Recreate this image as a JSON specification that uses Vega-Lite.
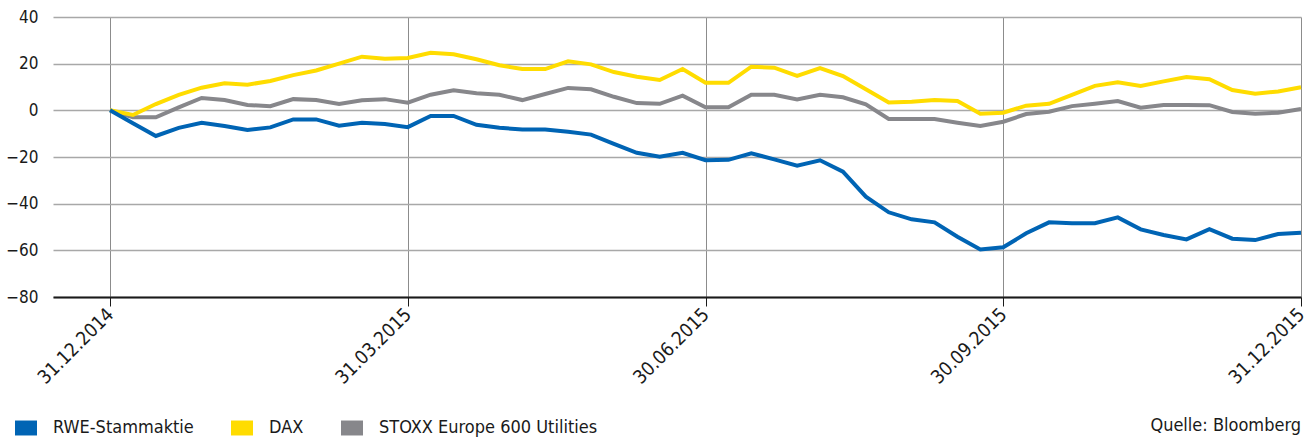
{
  "$schema": "https://vega.github.io/schema/vega-lite/v6.json",
  "width": 1248,
  "height": 280,
  "autosize": {"type": "none"},
  "padding": {"left": 53, "top": 17, "right": 13, "bottom": 144},
  "config": {
    "font": "DejaVu Sans Condensed, DejaVu Sans, sans-serif",
    "view": {"stroke": null},
    "axis": {"labelColor": "#1a1a1a", "labelFontSize": 17}
  },
  "title": {
    "text": "Quelle: Bloomberg",
    "orient": "bottom",
    "anchor": "end",
    "frame": "group",
    "fontSize": 18,
    "fontWeight": "normal",
    "color": "#1a1a1a",
    "offset": -20
  },
  "data": {
    "values": [
      {"woche": 0, "RWE-Stammaktie": 0, "DAX": 0, "STOXX Europe 600 Utilities": 0},
      {"woche": 1, "RWE-Stammaktie": -5.5, "DAX": -2, "STOXX Europe 600 Utilities": -3},
      {"woche": 2, "RWE-Stammaktie": -11, "DAX": 2.7, "STOXX Europe 600 Utilities": -3},
      {"woche": 3, "RWE-Stammaktie": -7.5, "DAX": 6.6, "STOXX Europe 600 Utilities": 1.3},
      {"woche": 4, "RWE-Stammaktie": -5.3, "DAX": 9.7, "STOXX Europe 600 Utilities": 5.3},
      {"woche": 5, "RWE-Stammaktie": -6.7, "DAX": 11.6, "STOXX Europe 600 Utilities": 4.4},
      {"woche": 6, "RWE-Stammaktie": -8.4, "DAX": 11, "STOXX Europe 600 Utilities": 2.3},
      {"woche": 7, "RWE-Stammaktie": -7.3, "DAX": 12.6, "STOXX Europe 600 Utilities": 1.8},
      {"woche": 8, "RWE-Stammaktie": -3.9, "DAX": 15.1, "STOXX Europe 600 Utilities": 4.8},
      {"woche": 9, "RWE-Stammaktie": -3.9, "DAX": 17.1, "STOXX Europe 600 Utilities": 4.4},
      {"woche": 10, "RWE-Stammaktie": -6.6, "DAX": 20, "STOXX Europe 600 Utilities": 2.7},
      {"woche": 11, "RWE-Stammaktie": -5.3, "DAX": 23, "STOXX Europe 600 Utilities": 4.3},
      {"woche": 12, "RWE-Stammaktie": -5.9, "DAX": 22.1, "STOXX Europe 600 Utilities": 4.8},
      {"woche": 13, "RWE-Stammaktie": -7.2, "DAX": 22.4, "STOXX Europe 600 Utilities": 3.3},
      {"woche": 14, "RWE-Stammaktie": -2.4, "DAX": 24.7, "STOXX Europe 600 Utilities": 6.7},
      {"woche": 15, "RWE-Stammaktie": -2.4, "DAX": 24, "STOXX Europe 600 Utilities": 8.6},
      {"woche": 16, "RWE-Stammaktie": -6.2, "DAX": 21.9, "STOXX Europe 600 Utilities": 7.3},
      {"woche": 17, "RWE-Stammaktie": -7.5, "DAX": 19.3, "STOXX Europe 600 Utilities": 6.7},
      {"woche": 18, "RWE-Stammaktie": -8.2, "DAX": 17.7, "STOXX Europe 600 Utilities": 4.4},
      {"woche": 19, "RWE-Stammaktie": -8.2, "DAX": 17.7, "STOXX Europe 600 Utilities": 7},
      {"woche": 20, "RWE-Stammaktie": -9.2, "DAX": 21, "STOXX Europe 600 Utilities": 9.6},
      {"woche": 21, "RWE-Stammaktie": -10.4, "DAX": 19.7, "STOXX Europe 600 Utilities": 9},
      {"woche": 22, "RWE-Stammaktie": -14.4, "DAX": 16.4, "STOXX Europe 600 Utilities": 5.8},
      {"woche": 23, "RWE-Stammaktie": -18.2, "DAX": 14.4, "STOXX Europe 600 Utilities": 3.1},
      {"woche": 24, "RWE-Stammaktie": -19.9, "DAX": 13, "STOXX Europe 600 Utilities": 2.8},
      {"woche": 25, "RWE-Stammaktie": -18.2, "DAX": 17.7, "STOXX Europe 600 Utilities": 6.3},
      {"woche": 26, "RWE-Stammaktie": -21.4, "DAX": 11.8, "STOXX Europe 600 Utilities": 1.3},
      {"woche": 27, "RWE-Stammaktie": -21.2, "DAX": 11.8, "STOXX Europe 600 Utilities": 1.3},
      {"woche": 28, "RWE-Stammaktie": -18.4, "DAX": 18.7, "STOXX Europe 600 Utilities": 6.7},
      {"woche": 29, "RWE-Stammaktie": -21, "DAX": 18.3, "STOXX Europe 600 Utilities": 6.7},
      {"woche": 30, "RWE-Stammaktie": -23.7, "DAX": 14.8, "STOXX Europe 600 Utilities": 4.7},
      {"woche": 31, "RWE-Stammaktie": -21.4, "DAX": 18.1, "STOXX Europe 600 Utilities": 6.7},
      {"woche": 32, "RWE-Stammaktie": -26.3, "DAX": 14.7, "STOXX Europe 600 Utilities": 5.6},
      {"woche": 33, "RWE-Stammaktie": -37, "DAX": 9, "STOXX Europe 600 Utilities": 2.6},
      {"woche": 34, "RWE-Stammaktie": -43.7, "DAX": 3.4, "STOXX Europe 600 Utilities": -3.7},
      {"woche": 35, "RWE-Stammaktie": -46.7, "DAX": 3.7, "STOXX Europe 600 Utilities": -3.7},
      {"woche": 36, "RWE-Stammaktie": -48, "DAX": 4.4, "STOXX Europe 600 Utilities": -3.7},
      {"woche": 37, "RWE-Stammaktie": -54.2, "DAX": 4, "STOXX Europe 600 Utilities": -5.3},
      {"woche": 38, "RWE-Stammaktie": -59.6, "DAX": -1.5, "STOXX Europe 600 Utilities": -6.7},
      {"woche": 39, "RWE-Stammaktie": -58.7, "DAX": -1, "STOXX Europe 600 Utilities": -4.9},
      {"woche": 40, "RWE-Stammaktie": -52.7, "DAX": 2, "STOXX Europe 600 Utilities": -1.6},
      {"woche": 41, "RWE-Stammaktie": -48, "DAX": 2.8, "STOXX Europe 600 Utilities": -0.6},
      {"woche": 42, "RWE-Stammaktie": -48.4, "DAX": 6.6, "STOXX Europe 600 Utilities": 1.8},
      {"woche": 43, "RWE-Stammaktie": -48.4, "DAX": 10.5, "STOXX Europe 600 Utilities": 2.8},
      {"woche": 44, "RWE-Stammaktie": -45.9, "DAX": 12, "STOXX Europe 600 Utilities": 4},
      {"woche": 45, "RWE-Stammaktie": -51, "DAX": 10.4, "STOXX Europe 600 Utilities": 1.1},
      {"woche": 46, "RWE-Stammaktie": -53.4, "DAX": 12.4, "STOXX Europe 600 Utilities": 2.3},
      {"woche": 47, "RWE-Stammaktie": -55.3, "DAX": 14.3, "STOXX Europe 600 Utilities": 2.3},
      {"woche": 48, "RWE-Stammaktie": -50.9, "DAX": 13.3, "STOXX Europe 600 Utilities": 2.2},
      {"woche": 49, "RWE-Stammaktie": -55, "DAX": 8.7, "STOXX Europe 600 Utilities": -0.7},
      {"woche": 50, "RWE-Stammaktie": -55.6, "DAX": 7.1, "STOXX Europe 600 Utilities": -1.5},
      {"woche": 51, "RWE-Stammaktie": -53, "DAX": 8.1, "STOXX Europe 600 Utilities": -1},
      {"woche": 52, "RWE-Stammaktie": -52.5, "DAX": 9.9, "STOXX Europe 600 Utilities": 0.6}
    ]
  },
  "transform": [
    {"fold": ["STOXX Europe 600 Utilities", "DAX", "RWE-Stammaktie"], "as": ["serie", "wert"]}
  ],
  "mark": {"type": "line", "strokeWidth": 4, "strokeJoin": "miter"},
  "encoding": {
    "x": {
      "field": "woche",
      "type": "quantitative",
      "scale": {"domain": [-2.49, 52], "nice": false, "zero": false},
      "axis": {
        "title": null,
        "values": [0, 13, 26, 39, 52],
        "labelExpr": "datum.value == 0 ? '31.12.2014' : datum.value == 13 ? '31.03.2015' : datum.value == 26 ? '30.06.2015' : datum.value == 39 ? '30.09.2015' : '31.12.2015'",
        "labelAngle": -45,
        "labelAlign": "right",
        "labelBaseline": "middle",
        "labelFontSize": 19,
        "labelPadding": 5,
        "grid": true,
        "gridColor": "#8c8c8c",
        "gridWidth": 1,
        "domainColor": "#1a1a1a",
        "domainWidth": 2,
        "tickColor": "#1a1a1a",
        "tickSize": 9,
        "tickWidth": 1
      }
    },
    "y": {
      "field": "wert",
      "type": "quantitative",
      "scale": {"domain": [-80, 40], "nice": false},
      "axis": {
        "title": null,
        "values": [-80, -60, -40, -20, 0, 20, 40],
        "domain": false,
        "ticks": false,
        "labelPadding": 15,
        "labelFontSize": 17,
        "gridColor": "#a8a8a8",
        "gridWidth": 1.3
      }
    },
    "color": {
      "field": "serie",
      "type": "nominal",
      "scale": {
        "domain": ["RWE-Stammaktie", "DAX", "STOXX Europe 600 Utilities"],
        "range": ["#0064b4", "#ffdc00", "#87878b"]
      },
      "legend": {
        "title": null,
        "orient": "none",
        "legendX": -38,
        "legendY": 400,
        "direction": "horizontal",
        "symbolType": "M-1,-0.68H1V0.68H-1Z",
        "symbolSize": 484,
        "symbolStrokeWidth": 0,
        "labelFontSize": 18,
        "labelColor": "#1a1a1a",
        "labelLimit": 0,
        "labelOffset": 16,
        "columnPadding": 37,
        "encode": {
          "symbols": {
            "update": {
              "fill": {"scale": "color", "field": "value"},
              "stroke": {"value": "transparent"}
            }
          }
        }
      }
    }
  }
}
